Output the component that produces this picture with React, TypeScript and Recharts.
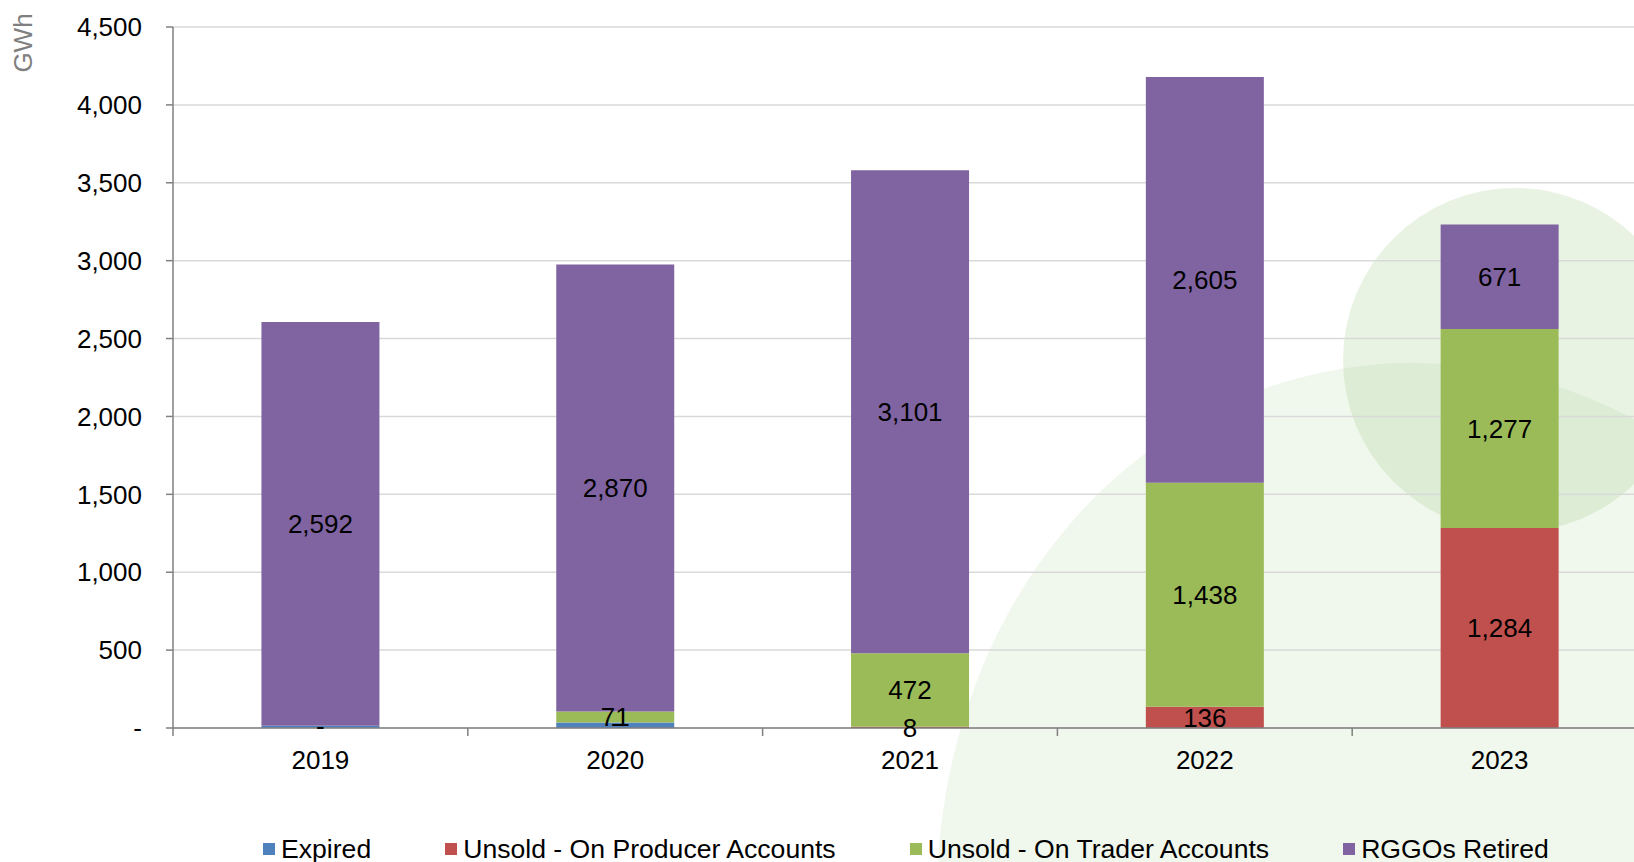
import { Bar, BarChart, CartesianGrid, LabelList, Legend, XAxis, YAxis } from 'recharts';

const years = ['2019', '2020', '2021', '2022', '2023'];
const expired = [15, 35, 0, 0, 0];
const unsoldProducer = [0, 0, 8, 136, 1284];
const unsoldTrader = [0, 71, 472, 1438, 1277];
const rggosRetired = [2592, 2870, 3101, 2605, 671];
const yTicks = [0, 500, 1000, 1500, 2000, 2500, 3000, 3500, 4000, 4500];

const FONT = '"Liberation Sans", Arial, sans-serif';
const AXIS_GREY = '#808080';

const series = [
  { key: 'expired', name: 'Expired', color: '#4f81bd', labelled: false },
  { key: 'producer', name: 'Unsold - On Producer Accounts', color: '#c0504d', labelled: true },
  { key: 'trader', name: 'Unsold - On Trader Accounts', color: '#9bbb59', labelled: true },
  { key: 'retired', name: 'RGGOs Retired', color: '#8064a2', labelled: true }
];

const data = years.map((year, i) => ({
  year,
  expired: expired[i],
  producer: unsoldProducer[i],
  trader: unsoldTrader[i],
  retired: rggosRetired[i]
}));

const fmt = (v: number) => (Number(v) === 0 ? '-' : Number(v).toLocaleString('en-US'));

// zero-height producer segments get no label from recharts, so the "-" is
// drawn on top of the expired segment below them
function ZeroProducerLabel(props: any) {
  const { x, y, width, index } = props;
  if (data[index]?.producer !== 0) return null;
  return (
    <text x={x + width / 2} y={y} textAnchor="middle" dominantBaseline="central" fill="#000" fontSize={26}>
      {fmt(data[index].producer)}
    </text>
  );
}

function YearTick(props: any) {
  const { x, y, payload } = props;
  const half = payload?.offset ?? 147.4;
  const axisY = y - 23;
  return (
    <g>
      <line
        x1={x - half}
        x2={x - half}
        y1={axisY}
        y2={axisY + 8}
        stroke={AXIS_GREY}
        strokeWidth={1.5}
      />
      <text x={x} y={y} dy="0.71em" textAnchor="middle" fill="#000" fontSize={26}>
        {payload.value}
      </text>
    </g>
  );
}

function LegendRow() {
  return (
    <div
      style={{
        display: 'flex',
        paddingLeft: 263,
        height: 26,
        lineHeight: '26px',
        fontSize: 26.6,
        fontFamily: FONT,
        color: '#000',
        whiteSpace: 'nowrap'
      }}
    >
      {series.map((s) => (
        <div key={s.key} style={{ display: 'flex', alignItems: 'center', marginRight: 74 }}>
          <span style={{ width: 12, height: 12, background: s.color, marginRight: 6 }} />
          <span>{s.name}</span>
        </div>
      ))}
    </div>
  );
}

export default function App() {
  return (
    <div
      style={{
        position: 'absolute',
        left: 0,
        top: 0,
        width: 1634,
        height: 862,
        overflow: 'hidden',
        background: '#fff',
        fontFamily: FONT
      }}
    >
      {/* decorative background shapes */}
      <svg width={1634} height={862} style={{ position: 'absolute', left: 0, top: 0 }}>
        <ellipse cx={1440} cy={930} rx={500} ry={570} transform="rotate(-12 1440 930)" fill="#f0f7ec" />
        <circle cx={1515} cy={360} r={172} fill="#9bc77f" fillOpacity={0.22} />
      </svg>
      <div style={{ position: 'absolute', left: 0, top: 0 }}>
        <BarChart
          width={1647}
          height={862}
          data={data}
          margin={{ top: 27, right: 0, left: 0, bottom: 0 }}
          barCategoryGap="30%"
        >
          <CartesianGrid vertical={false} stroke="#d9d9d9" strokeWidth={1.5} />
          <XAxis
            dataKey="year"
            height={108}
            tickSize={7}
            tickMargin={16}
            tickLine={false}
            axisLine={{ stroke: AXIS_GREY, strokeWidth: 1.5 }}
            tick={<YearTick />}
            interval={0}
          />
          <YAxis
            width={173}
            domain={[0, 4500]}
            ticks={yTicks}
            interval={0}
            tickFormatter={fmt}
            tickSize={7}
            tickMargin={24}
            tickLine={{ stroke: AXIS_GREY, strokeWidth: 1.5 }}
            axisLine={{ stroke: AXIS_GREY, strokeWidth: 1.5 }}
            tick={{ fill: '#000', fontSize: 26 }}
            label={{
              content: () => (
                <text
                  x={23}
                  y={43}
                  transform="rotate(-90 23 43)"
                  textAnchor="middle"
                  dominantBaseline="central"
                  fill="#7f7f7f"
                  fontSize={26}
                >
                  GWh
                </text>
              )
            }}
          />
          <Legend
            verticalAlign="bottom"
            content={() => <LegendRow />}
            wrapperStyle={{ left: 0, bottom: 0, width: 1647 }}
          />
          {series.map((s) => (
            <Bar
              key={s.key}
              dataKey={s.key}
              name={s.name}
              stackId="a"
              fill={s.color}
              isAnimationActive={false}
            >
              {s.labelled ? (
                <LabelList
                  dataKey={s.key}
                  position="center"
                  formatter={fmt}
                  fill="#000"
                  fontSize={26}
                />
              ) : (
                <LabelList dataKey={s.key} content={<ZeroProducerLabel />} />
              )}
            </Bar>
          ))}
        </BarChart>
      </div>
    </div>
  );
}
